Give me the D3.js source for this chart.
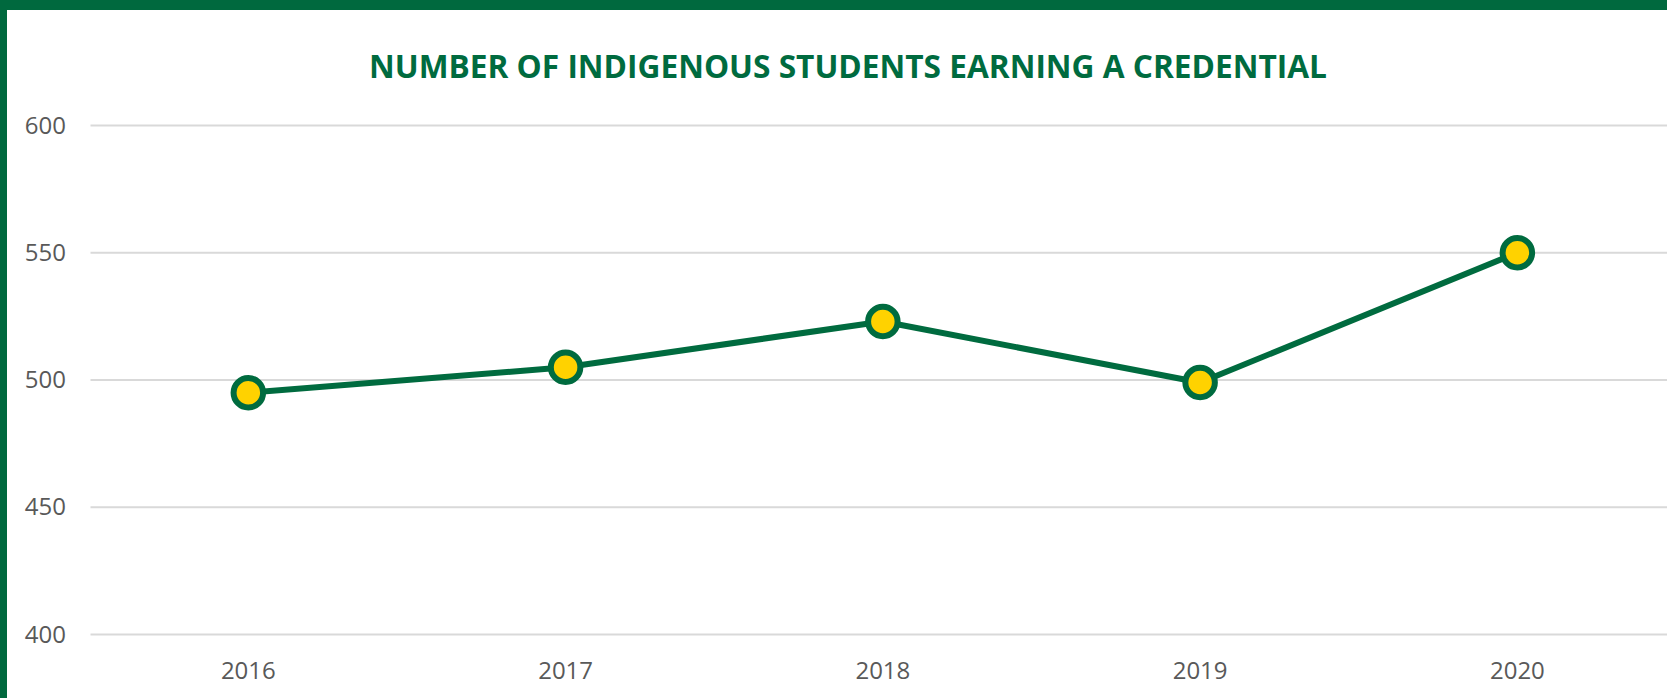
<!DOCTYPE html>
<html>
<head>
<meta charset="utf-8">
<script src="https://cdn.jsdelivr.net/npm/d3@7"></script>
<style>
  html, body { margin: 0; padding: 0; background: #ffffff; }
  svg { display: block; }
</style>
</head>
<body>
<svg id="chart" width="1667" height="698"></svg>
<script>
const title = "NUMBER OF INDIGENOUS STUDENTS EARNING A CREDENTIAL";
const years = ["2016", "2017", "2018", "2019", "2020"];
const credentials = [495, 505, 523, 499, 550];
const yTicks = [400, 450, 500, 550, 600];

const W = 1667, H = 698;
const green = "#006B3F";
const yellow = "#FFD200";

const svg = d3.select("#chart");

// frame
svg.append("rect").attr("x", 0).attr("y", 0).attr("width", W).attr("height", H).attr("fill", "#ffffff");
svg.append("rect").attr("x", 0).attr("y", 0).attr("width", W).attr("height", 10).attr("fill", "#00693E");
svg.append("rect").attr("x", 0).attr("y", 0).attr("width", 7).attr("height", H).attr("fill", "#00693E");

// scales
const x = d3.scaleBand().domain(years).range([89.7, 1676]).padding(0);
const y = d3.scaleLinear().domain([400, 600]).range([634.6, 125.4]);
const gridX0 = 90.5, gridX1 = W;

// gridlines
svg.append("g").selectAll("line").data(yTicks).join("line")
  .attr("x1", gridX0).attr("x2", gridX1)
  .attr("y1", d => y(d)).attr("y2", d => y(d))
  .attr("stroke", "#d9d9d9").attr("stroke-width", 2);

// y axis labels
const yAxis = d3.axisLeft(y).tickValues(yTicks).tickSize(0).tickPadding(0);
const gy = svg.append("g").attr("transform", "translate(66,0)").call(yAxis);
gy.select(".domain").remove();
gy.selectAll("text")
  .attr("fill", "#595959")
  .style("font-family", "'Open Sans', sans-serif")
  .style("font-size", "24px");

// x axis labels
const xAxis = d3.axisBottom(x).tickSize(0).tickPadding(0);
const gx = svg.append("g").attr("transform", "translate(0,679)").call(xAxis);
gx.select(".domain").remove();
gx.selectAll("text")
  .attr("dy", 0)
  .attr("fill", "#595959")
  .style("font-family", "'Open Sans', sans-serif")
  .style("font-size", "24px");

// title
const t = svg.append("text")
  .attr("x", 848).attr("y", 78)
  .attr("text-anchor", "middle")
  .attr("fill", green)
  .style("font-family", "'Open Sans', sans-serif")
  .style("font-weight", "700")
  .style("font-size", "32px")
  .text(title);
const tl = t.node().getComputedTextLength();
if (tl > 958) t.attr("textLength", 958).attr("lengthAdjust", "spacingAndGlyphs");

// line
const data = years.map((yr, i) => ({ yr, v: credentials[i] }));
const cx = d => x(d.yr) + x.bandwidth() / 2;
const line = d3.line().x(cx).y(d => y(d.v));
svg.append("path").datum(data)
  .attr("d", line)
  .attr("fill", "none")
  .attr("stroke", green)
  .attr("stroke-width", 6)
  .attr("stroke-linejoin", "round");

svg.append("g").selectAll("circle").data(data).join("circle")
  .attr("cx", cx).attr("cy", d => y(d.v))
  .attr("r", 14.75)
  .attr("fill", yellow)
  .attr("stroke", green)
  .attr("stroke-width", 6);
</script>
</body>
</html>
